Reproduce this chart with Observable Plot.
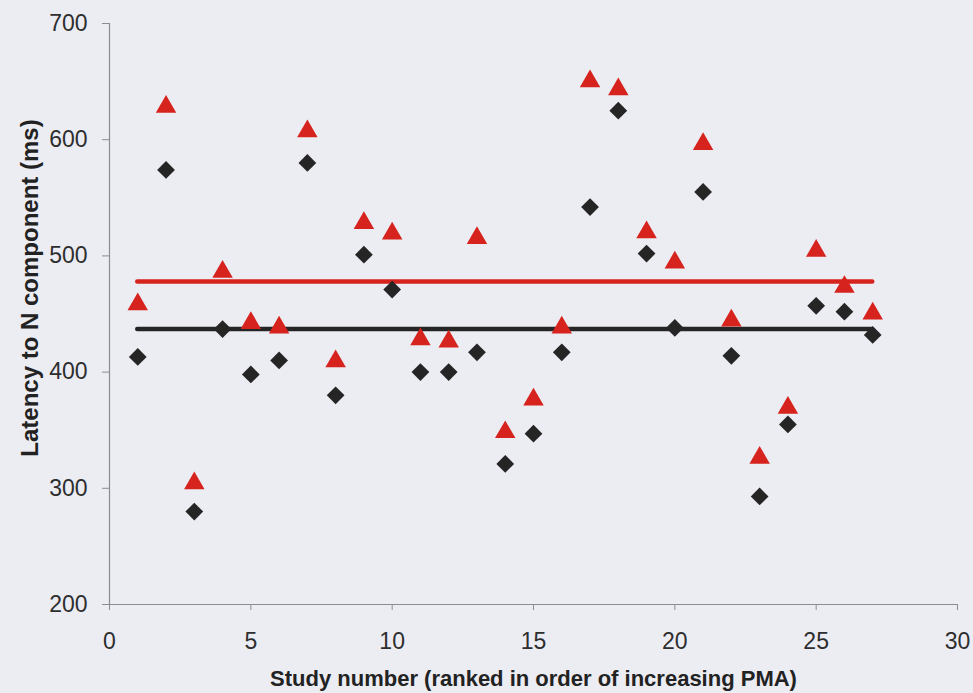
<!DOCTYPE html>
<html>
<head>
<meta charset="utf-8">
<script src="https://cdn.jsdelivr.net/npm/d3@7"></script>
<script src="https://cdn.jsdelivr.net/npm/@observablehq/plot@0.6"></script>
<style>
  html, body { margin: 0; padding: 0; background: #ececf3; }
  #chart svg { display: block; }
</style>
</head>
<body>
<div id="chart"></div>
<script>
// Study number, ranked by increasing PMA
const studies = [1, 2, 3, 4, 5, 6, 7, 8, 9, 10, 11, 12, 13, 14, 15, 16, 17, 18, 19, 20, 21, 22, 23, 24, 25, 26, 27];
// Latency to N component (ms), red triangle series
const redLatency = [460, 630, 306, 488, 444, 440, 609, 411, 530, 521, 430, 428, 517, 350, 378, 440, 652, 645, 522, 496, 598, 446, 328, 371, 506, 475, 452];
// Latency to N component (ms), black diamond series
const blackLatency = [413, 574, 280, 437, 398, 410, 580, 380, 501, 471, 400, 400, 417, 321, 347, 417, 542, 625, 502, 438, 555, 414, 293, 355, 457, 452, 432];
// Group mean latencies drawn as horizontal lines
const redMean = 478;
const blackMean = 437;
// Axis ticks
const xTicks = [0, 5, 10, 15, 20, 25, 30];
const yTicks = [200, 300, 400, 500, 600, 700];
const xTitle = "Study number (ranked in order of increasing PMA)";
const yTitle = "Latency to N component (ms)";

const red = studies.map((s, i) => ({study: s, latency: redLatency[i]}));
const black = studies.map((s, i) => ({study: s, latency: blackLatency[i]}));

const redColor = "#d6231e";
const blackColor = "#252525";
const axisColor = "#8c8c90";

const chart = Plot.plot({
  width: 973,
  height: 693,
  marginLeft: 109,
  marginRight: 16,
  marginTop: 23,
  marginBottom: 89,
  style: {
    background: "#ececf3",
    color: "#333",
    fontFamily: "'Liberation Sans', Arial, sans-serif",
    fontSize: "23px"
  },
  x: {domain: [0, 30], axis: null},
  y: {domain: [200, 700], axis: null},
  marks: [
    Plot.ruleX([0], {stroke: axisColor, strokeWidth: 1.2}),
    Plot.ruleY([200], {stroke: axisColor, strokeWidth: 1.2}),
    Plot.axisY({ticks: yTicks, tickSize: 7, tickPadding: 15, stroke: axisColor, fill: "#2e2e2e", label: null}),
    Plot.axisX({ticks: xTicks, tickSize: 6, tickPadding: 22, stroke: axisColor, fill: "#2e2e2e", label: null}),
    Plot.ruleY([redMean], {x1: studies[0], x2: studies[studies.length - 1], stroke: redColor, strokeWidth: 4.5, strokeLinecap: "round"}),
    Plot.ruleY([blackMean], {x1: studies[0], x2: studies[studies.length - 1], stroke: blackColor, strokeWidth: 4.5, strokeLinecap: "round"}),
    Plot.dot(black, {x: "study", y: "latency", symbol: "diamond2", r: 8, fill: blackColor, stroke: null}),
    Plot.dot(red, {x: "study", y: "latency", symbol: "triangle", r: 7.6, dy: 2, fill: redColor, stroke: null}),
    Plot.text([xTitle], {frameAnchor: "bottom", dy: 81, fontSize: 22, fontWeight: "bold", fill: "#222", textAnchor: "middle"}),
    Plot.text([yTitle], {frameAnchor: "left", rotate: -90, dx: -79, dy: -26, fontSize: 24, fontWeight: "bold", fill: "#222", textAnchor: "middle"})
  ]
});

document.getElementById("chart").appendChild(chart);
</script>
</body>
</html>
